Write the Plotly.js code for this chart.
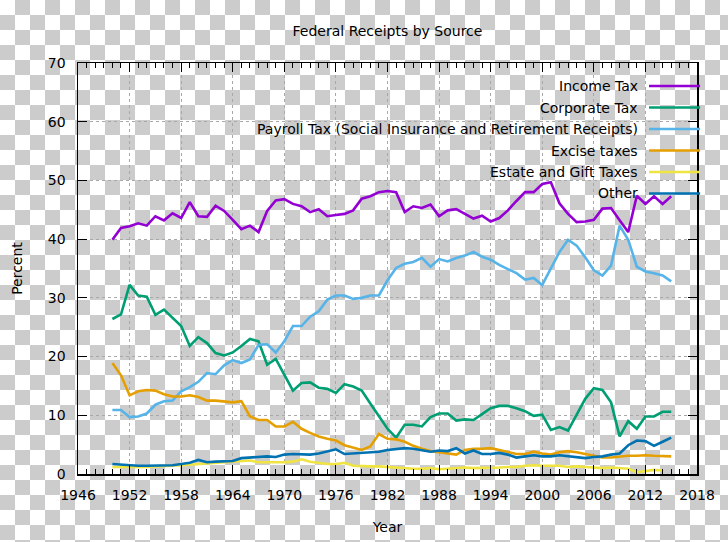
<!DOCTYPE html>
<html>
<head>
<meta charset="utf-8">
<script src="https://cdn.plot.ly/plotly-3.0.1.min.js"></script>
<style>
html, body { margin:0; padding:0; }
body {
  width:728px; height:542px; overflow:hidden;
  background-color:#ffffff;
  background-image:
    linear-gradient(45deg, #cccccc 25%, transparent 25%, transparent 75%, #cccccc 75%),
    linear-gradient(45deg, #cccccc 25%, transparent 25%, transparent 75%, #cccccc 75%);
  background-size:30px 30px;
  background-position:0 0, 15px 15px;
}
#chart { width:728px; height:542px; }
</style>
</head>
<body>
<div id="chart"></div>
<script>
const years = [1950,1951,1952,1953,1954,1955,1956,1957,1958,1959,
  1960,1961,1962,1963,1964,1965,1966,1967,1968,1969,
  1970,1971,1972,1973,1974,1975,1976,1977,1978,1979,
  1980,1981,1982,1983,1984,1985,1986,1987,1988,1989,
  1990,1991,1992,1993,1994,1995,1996,1997,1998,1999,
  2000,2001,2002,2003,2004,2005,2006,2007,2008,2009,
  2010,2011,2012,2013,2014,2015];

const incomeTax = [39.9,41.9,42.2,42.7,42.3,43.9,43.2,44.4,43.6,46.3,
  43.9,43.8,45.7,44.8,43.3,41.7,42.3,41.2,44.8,46.6,
  46.8,46.0,45.6,44.6,45.1,43.9,44.1,44.3,44.9,46.9,
  47.3,48.0,48.2,48.0,44.6,45.6,45.3,45.9,43.9,44.9,
  45.1,44.3,43.5,44.0,43.0,43.6,44.9,46.5,48.0,48.0,
  49.4,49.7,46.1,44.3,42.9,43.0,43.3,45.2,45.3,43.2,
  41.2,47.4,46.0,47.3,46.0,47.3];

const corporateTax = [26.4,27.2,32.2,30.4,30.2,27.1,28.0,26.6,25.2,21.8,
  23.3,22.3,20.6,20.2,20.7,21.8,23.0,22.6,18.6,19.6,
  16.9,14.2,15.5,15.6,14.7,14.5,13.8,15.3,14.9,14.2,
  12.0,9.8,7.7,6.2,8.4,8.4,8.1,9.7,10.3,10.3,
  9.1,9.3,9.2,10.2,11.2,11.6,11.6,11.2,10.7,9.9,
  10.1,7.5,8.0,7.4,10.2,12.8,14.6,14.3,12.2,6.4,
  9.0,7.7,9.8,9.8,10.6,10.6];

const payrollTax = [10.9,10.9,9.7,9.8,10.3,11.8,12.4,12.5,14.1,14.8,
  15.7,17.2,17.0,18.5,19.4,18.9,19.5,22.0,22.1,20.7,
  22.6,25.2,25.2,26.8,27.7,29.7,30.4,30.4,29.8,30.0,
  30.4,30.4,33.0,35.1,35.8,36.1,36.8,35.3,36.6,36.2,
  36.8,37.2,37.8,37.0,36.5,35.6,34.9,34.2,33.1,33.4,
  32.2,34.9,37.8,39.9,38.9,36.9,34.7,33.8,35.5,42.3,
  39.9,35.3,34.5,34.2,33.8,32.8];

const exciseTaxes = [18.9,16.8,13.4,14.1,14.3,14.2,13.6,13.2,13.2,13.4,
  13.1,12.5,12.5,12.4,12.2,12.4,9.8,9.2,9.2,8.1,
  8.1,8.9,7.7,7.0,6.4,6.0,5.7,4.9,4.5,4.1,
  4.7,6.8,6.0,5.9,5.5,4.8,4.3,3.9,3.7,3.5,
  3.3,4.1,4.3,4.3,4.4,4.1,3.7,3.4,3.4,3.8,
  3.5,3.3,3.7,3.9,3.7,3.4,3.1,2.8,2.8,3.0,
  3.1,3.1,3.2,3.1,3.0,3.0];

const estateGiftTaxes = [1.2,1.2,1.1,1.1,1.2,1.3,1.3,1.4,1.5,1.6,
  1.7,1.9,2.0,2.0,2.1,2.3,2.3,2.0,2.0,1.9,
  2.0,2.1,2.5,2.1,1.9,1.7,1.7,1.9,1.4,1.3,
  1.3,1.3,1.2,1.0,1.0,0.9,0.9,1.0,0.8,0.9,
  1.1,1.1,1.0,1.0,1.1,1.1,1.2,1.2,1.4,1.5,
  1.4,1.4,1.4,1.2,1.3,1.2,1.1,1.0,1.1,1.0,
  0.9,0.3,0.5,0.7,0.6];

const otherReceipts = [1.7,1.6,1.4,1.4,1.4,1.4,1.5,1.5,1.7,1.9,
  2.4,2.0,2.1,2.2,2.2,2.7,2.8,2.8,3.0,2.9,
  3.3,3.4,3.4,3.3,3.5,3.8,4.2,3.4,3.5,3.6,
  3.8,3.8,4.1,4.2,4.4,4.3,4.1,3.8,4.0,3.9,
  4.4,3.5,4.0,3.4,3.4,3.6,3.3,2.8,3.0,3.2,
  3.0,3.0,3.2,3.0,2.9,2.7,2.9,3.0,3.3,3.5,
  4.9,5.7,5.6,4.8,5.5,6.2];

const seriesNames = ['Income Tax','Corporate Tax','Payroll Tax (Social Insurance and Retirement Receipts)',
  'Excise taxes','Estate and Gift Taxes','Other'];
const seriesValues = [incomeTax, corporateTax, payrollTax, exciseTaxes, estateGiftTaxes, otherReceipts];
const seriesColors = ['#9400d3','#009e73','#56b4e9','#e69f00','#f0e442','#0072b2'];

const FONT = 'DejaVu Sans, sans-serif';

const traces = seriesValues.map((vals, i) => ({
  type:'scatter', mode:'lines',
  x: years.slice(0, vals.length), y: vals,
  name: seriesNames[i],
  line:{color:seriesColors[i], width:2.6},
  hoverinfo:'x+y+name'
}));

// gnuplot-style key: right-aligned text with sample line to its right
const annotations = [];
const shapes = [];
const keyTop = 0.944, keyStep = 0.0523;
seriesNames.forEach((n, i) => {
  const yy = keyTop - i*keyStep;
  annotations.push({xref:'paper', yref:'paper', x:0.9075, y:yy, xanchor:'right', yanchor:'middle',
    text:n, showarrow:false, font:{family:FONT, size:14, color:'#000'}});
  shapes.push({type:'line', xref:'paper', yref:'paper', x0:0.9225, x1:1.005, y0:yy, y1:yy,
    line:{color:seriesColors[i], width:2.6}});
});

const layout = {
  width:728, height:542,
  margin:{l:78, r:31, t:63, b:68},
  paper_bgcolor:'rgba(0,0,0,0)', plot_bgcolor:'rgba(0,0,0,0)',
  font:{family:FONT, size:14, color:'#000'},
  showlegend:false,
  title:{text:'Federal Receipts by Source', x:0.5, xref:'paper', xanchor:'center',
    y:1-31/542, yanchor:'middle', font:{family:FONT, size:14, color:'#000'}},
  xaxis:{
    range:[1946,2018], tick0:1946, dtick:6, ticks:'inside', ticklen:9, tickwidth:1, tickcolor:'#000',
    showline:true, linecolor:'#000', linewidth:1.5, mirror:'allticks',
    showgrid:true, gridcolor:'#a8a8a8', griddash:'dot', gridwidth:1, zeroline:false,
    minor:{dtick:1, tick0:1946, ticks:'inside', ticklen:5, tickwidth:1, tickcolor:'#000', showgrid:false},
    ticklabelstandoff:8,
    title:{text:'Year', standoff:20, font:{family:FONT, size:14, color:'#000'}},
    automargin:false
  },
  yaxis:{
    range:[0,70], dtick:10, ticks:'inside', ticklen:9, tickwidth:1, tickcolor:'#000',
    showline:true, linecolor:'#000', linewidth:1.5, mirror:'allticks',
    showgrid:true, gridcolor:'#a8a8a8', griddash:'dot', gridwidth:1, zeroline:false,
    ticklabelstandoff:8,
    title:{text:'Percent', standoff:22, font:{family:FONT, size:14, color:'#000'}},
    automargin:false
  },
  annotations:annotations,
  shapes:shapes
};

Plotly.newPlot('chart', traces, layout, {displayModeBar:false, staticPlot:true});
</script>
</body>
</html>
